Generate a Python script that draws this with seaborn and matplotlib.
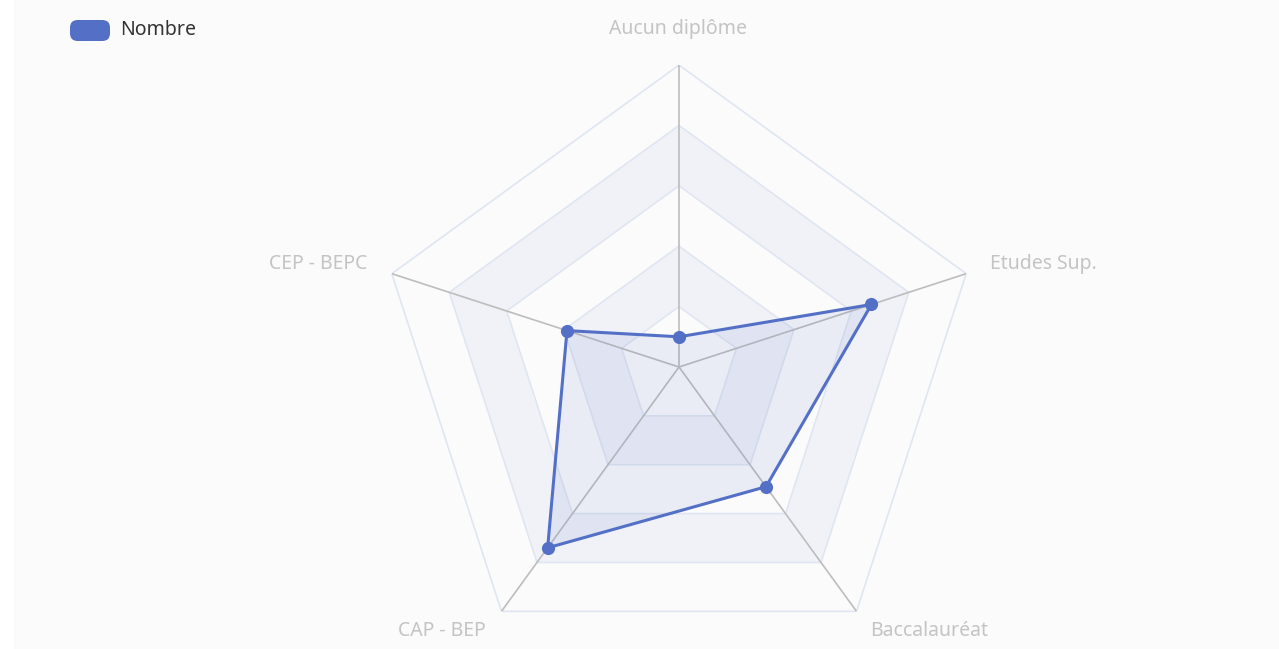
import numpy as np
import pandas as pd
import matplotlib
matplotlib.use("Agg")
import matplotlib.pyplot as plt
import seaborn as sns
from matplotlib.patches import Rectangle, FancyBboxPatch

# ── Data ──────────────────────────────────────────────────────────────────────
categories = ['Aucun diplôme', 'Etudes Sup.', 'Baccalauréat', 'CAP - BEP', 'CEP - BEPC']
values     = [10, 67, 49, 74, 39]
max_value  = 100
n_levels   = 5
series_name = 'Nombre'

# ── Style ─────────────────────────────────────────────────────────────────────
sns.set_theme(style='white')
plt.rcParams['font.family'] = ['Noto Sans', 'DejaVu Sans']

BLUE       = '#5470c6'
BG         = '#fbfbfb'
SPLIT_LINE = '#e0e6f1'
AXIS_LINE  = '#bdbdbd'
BAND       = '#f0f2f8'
LABEL      = '#c4c4c4'

W, H = 1279, 649
fig = plt.figure(figsize=(W / 100, H / 100), dpi=100, facecolor=BG)
fig.patches.append(Rectangle((0, 0), 14 / W, 1, transform=fig.transFigure,
                             facecolor='white', edgecolor='none', zorder=0))

# polar axes centred at (679, 367) px with radius 302 px
cx, cy, R = 679, H - 367, 302
ax = fig.add_axes([(cx - R) / W, (cy - R) / H, 2 * R / W, 2 * R / H],
                  projection='polar')
ax.set_facecolor('none')
ax.set_theta_offset(np.pi / 2)
ax.set_theta_direction(-1)
ax.set_ylim(0, max_value)
ax.grid(False)
ax.spines['polar'].set_visible(False)

n = len(categories)
angles = np.linspace(0, 2 * np.pi, n, endpoint=False)
closed = np.append(angles, angles[0] + 2 * np.pi)

# ── Split areas (alternating bands, from outside in) ─────────────────────────
levels = np.linspace(0, max_value, n_levels + 1)[1:]
for i, lev in enumerate(levels[::-1]):
    color = BG if i % 2 == 0 else BAND
    ax.fill(closed, [lev] * len(closed), color=color, lw=0, zorder=1)

# ── Split lines ──────────────────────────────────────────────────────────────
for lev in levels:
    ax.plot(closed, [lev] * len(closed), color=SPLIT_LINE, lw=1.2, zorder=2)

# ── Axis lines ───────────────────────────────────────────────────────────────
for a in angles:
    ax.plot([a, a], [0, max_value], color=AXIS_LINE, lw=1.2, zorder=3)

# ── Series ───────────────────────────────────────────────────────────────────
df = pd.DataFrame({'angle': closed, 'value': values + values[:1]})
ax.fill(df['angle'], df['value'], color=BLUE, alpha=0.1, lw=0, zorder=4)
sns.lineplot(data=df, x='angle', y='value', ax=ax, sort=False,
             color=BLUE, lw=2.2, zorder=5, legend=False)
sns.scatterplot(data=df.iloc[:-1], x='angle', y='value', ax=ax,
                color=BLUE, s=90, edgecolor=BLUE, linewidth=0, zorder=6, legend=False)
ax.set_xlabel('')
ax.set_ylabel('')
ax.set_xticks([])
ax.set_yticks([])
ax.set_ylim(0, max_value)

# ── Category labels ──────────────────────────────────────────────────────────
label_pos = {
    'Aucun diplôme': (678, 29, 'center'),
    'Etudes Sup.':   (990, 264, 'left'),
    'Baccalauréat':  (870, 631, 'left'),
    'CAP - BEP':     (486, 631, 'right'),
    'CEP - BEPC':    (367, 264, 'right'),
}
for cat in categories:
    x, y, ha = label_pos[cat]
    fig.text(x / W, 1 - y / H, cat, ha=ha, va='center',
             color=LABEL, fontsize=14)

# ── Legend ───────────────────────────────────────────────────────────────────
fig.patches.append(FancyBboxPatch((70 / W, 1 - 41 / H), 40 / W, 21 / H,
                                  boxstyle='round,pad=0,rounding_size=0.006',
                                  transform=fig.transFigure, facecolor=BLUE,
                                  edgecolor='none', mutation_aspect=W / H))
fig.text(120 / W, 1 - 30 / H, series_name, ha='left', va='center',
         color='#333333', fontsize=14)

fig.savefig('out.png', dpi=100, facecolor=BG)
